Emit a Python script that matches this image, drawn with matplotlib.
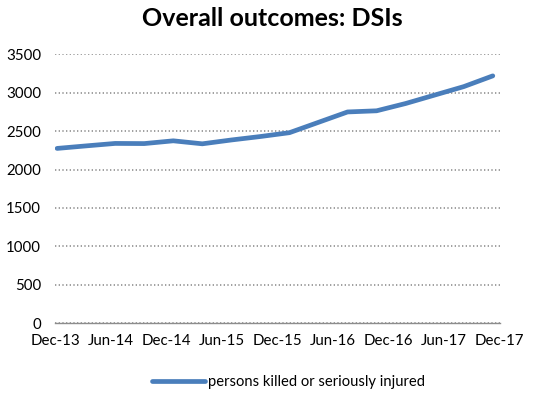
import numpy as np
import matplotlib
matplotlib.use("Agg")
import matplotlib.pyplot as plt

# quarterly KSI counts (rolling), Dec-13 onwards
quarters = ["Dec-13", "Mar-14", "Jun-14", "Sep-14", "Dec-14", "Mar-15", "Jun-15", "Sep-15",
            "Dec-15", "Mar-16", "Jun-16", "Sep-16", "Dec-16", "Mar-17", "Jun-17", "Sep-17"]
ksi = [2275, 2308, 2340, 2338, 2374, 2335, 2385, 2430,
       2480, 2615, 2750, 2765, 2860, 2970, 3080, 3220]
tick_labels = ["Dec-13", "Jun-14", "Dec-14", "Jun-15", "Dec-15",
               "Jun-16", "Dec-16", "Jun-17", "Dec-17"]
y_ticks = [0, 500, 1000, 1500, 2000, 2500, 3000, 3500]

plt.rcParams['font.family'] = ['Lato', 'DejaVu Sans']

fig = plt.figure(figsize=(5.45, 3.94), dpi=100)
ax = fig.add_axes([0.101, 0.180, 0.816, 0.682])

x = np.arange(len(ksi))
ax.plot(x, ksi, color='#4a7ebb', linewidth=3.4, solid_capstyle='round',
        solid_joinstyle='round', label='persons killed or seriously injured', zorder=3)

ax.set_xlim(-0.07, 15.24)
ax.set_ylim(0, 3500)
ax.set_xticks(np.linspace(-0.07, 15.24, len(tick_labels)))
ax.set_xticklabels(tick_labels)
ax.set_yticks(y_ticks)
ax.tick_params(axis='both', length=0, labelsize=10.8, colors='black')
ax.tick_params(axis='x', pad=8)
ax.tick_params(axis='y', pad=10)

ax.yaxis.grid(True, linestyle=(0, (0.8, 1.4)), color='#909090', linewidth=1.2)
ax.set_axisbelow(True)
for side in ['top', 'right', 'left']:
    ax.spines[side].set_visible(False)
ax.spines['bottom'].set_color('#8c8c8c')
ax.spines['bottom'].set_linewidth(1.0)

fig.text(0.5, 0.953, "Overall outcomes: DSIs", ha='center', va='center',
         fontsize=18, fontweight='bold')

fig.legend(loc='center', bbox_to_anchor=(0.53, 0.03), frameon=False,
           handlelength=3.6, handletextpad=0.2, fontsize=10.6)

fig.savefig("out.png", dpi=100)
